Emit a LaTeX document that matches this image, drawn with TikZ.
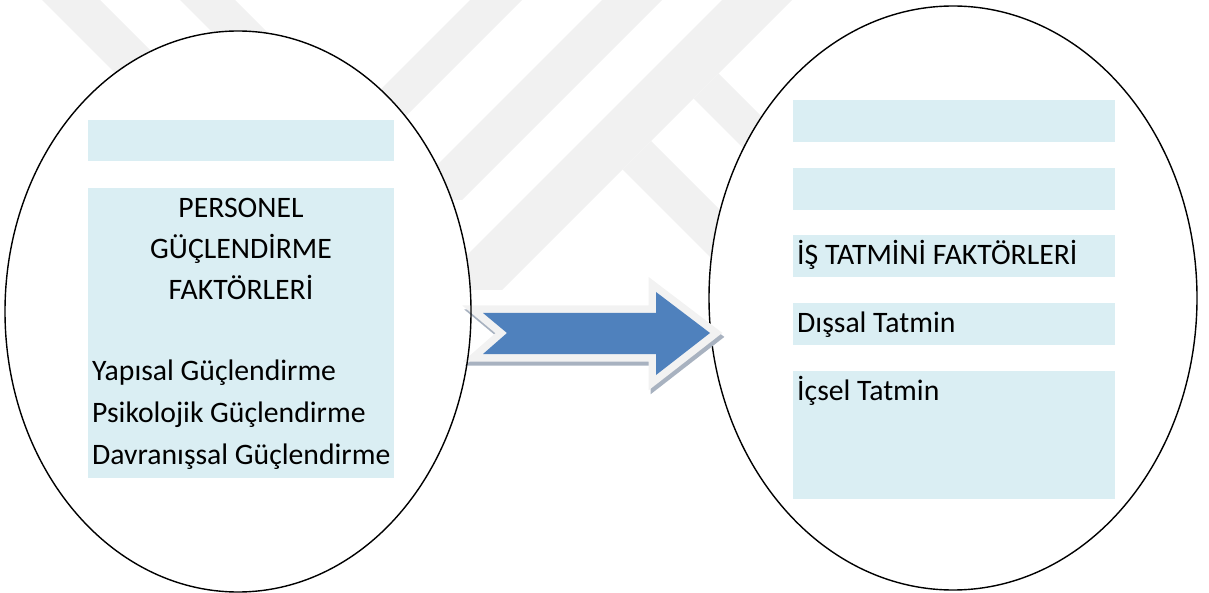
\documentclass[tikz,border=0pt]{standalone}
\usepackage{fontspec}
\setmainfont{Carlito}
\usetikzlibrary{shapes.geometric}

\definecolor{boxfill}{HTML}{DAEEF3}
\definecolor{wmgray}{HTML}{F1F1F1}
\definecolor{arrowblue}{HTML}{4F81BD}
\definecolor{arrowrim}{HTML}{F2F2F2}
\definecolor{arrowshade}{HTML}{A8B2C0}

\tikzset{
  oval/.style={ellipse, inner sep=0pt, outer sep=0pt},
  panel/.style={fill=boxfill, draw=none, anchor=north west, inner sep=0pt, outer sep=0pt},
  txt/.style={font=\fontsize{29.7}{36}\selectfont, inner sep=0pt, text=black},
  band/.style={fill=wmgray, draw=none},
  blockarrow/.pic={
    \path[pic actions] (483,313) -- (656,313) -- (656,292) -- (710,333)
      -- (656,375) -- (656,354) -- (483,354) -- (507,333) -- cycle;
  }
}

\begin{document}
\begin{tikzpicture}[x=1pt,y=-1pt]
\useasboundingbox (0,0) rectangle (1209,593);

% faint background watermark stripes
\path[band] (470,0) -- (522,0) -- (272,250) -- (220,250) -- cycle;
\path[band] (602,0) -- (662,0) -- (462,200) -- (402,200) -- cycle;
\path[band] (722,0) -- (792,0) -- (502,290) -- (432,290) -- cycle;
\path[band] (622.5,169.5) -- (651,141) -- (810,300) -- (753,300) -- cycle;
\path[band] (693.5,98.5) -- (718.5,73.5) -- (895,250) -- (845,250) -- cycle;
\path[band] (42,0) -- (100,0) -- (250,150) -- (192,150) -- cycle;
\path[band] (180,0) -- (235,0) -- (335,100) -- (280,100) -- cycle;

% the two ovals (white interiors)
\node[oval, fill=white, minimum width=466pt, minimum height=561pt] (left) at (238,311.5) {};
\node[oval, fill=white, draw=black, line width=1.4pt, minimum width=488pt, minimum height=584pt] (right) at (953,298) {};

% left panels
\node[panel, minimum width=306pt, minimum height=41pt] (lb1) at (88,120) {};
\node[panel, minimum width=306pt, minimum height=290pt] (lb2) at (88,188) {};

\node[txt, anchor=base] (t1) at (241,218) {PERSONEL};
\node[txt, anchor=base] (t2) at (241,258.5) {GÜÇLENDİRME};
\node[txt, anchor=base] (t3) at (241,300) {FAKTÖRLERİ};
\node[txt, anchor=base west] (t4) at (92,380) {Yapısal Güçlendirme};
\node[txt, anchor=base west] (t5) at (92,422) {Psikolojik Güçlendirme};
\node[txt, anchor=base west] (t6) at (92,464) {Davranışsal Güçlendirme};

% right panels
\node[panel, minimum width=322pt, minimum height=42pt] (rb1) at (793,100) {};
\node[panel, minimum width=322pt, minimum height=42pt] (rb2) at (793,168) {};
\node[panel, minimum width=322pt, minimum height=42pt] (rb3) at (793,235) {};
\node[panel, minimum width=322pt, minimum height=42pt] (rb4) at (793,303) {};
\node[panel, minimum width=322pt, minimum height=128pt] (rb5) at (793,371) {};

\node[txt, anchor=base west] (r1) at (797,265) {İŞ TATMİNİ FAKTÖRLERİ};
\node[txt, anchor=base west] (r2) at (797,332) {Dışsal Tatmin};
\node[txt, anchor=base west] (r3) at (797,400) {İçsel Tatmin};

% block arrow: shadow, light rim, blue body
\pic[fill=arrowshade, draw=arrowshade, line width=15pt, line join=miter] at (2,4) {blockarrow};
\pic[fill=arrowrim, draw=arrowrim, line width=15pt, line join=miter] at (0,0) {blockarrow};
\pic[fill=arrowblue] at (0,0) {blockarrow};

% outline of the left oval, over the arrow tail
\draw[line width=1.4pt] (left.center) ellipse [x radius=233pt, y radius=280.5pt];
\end{tikzpicture}
\end{document}
